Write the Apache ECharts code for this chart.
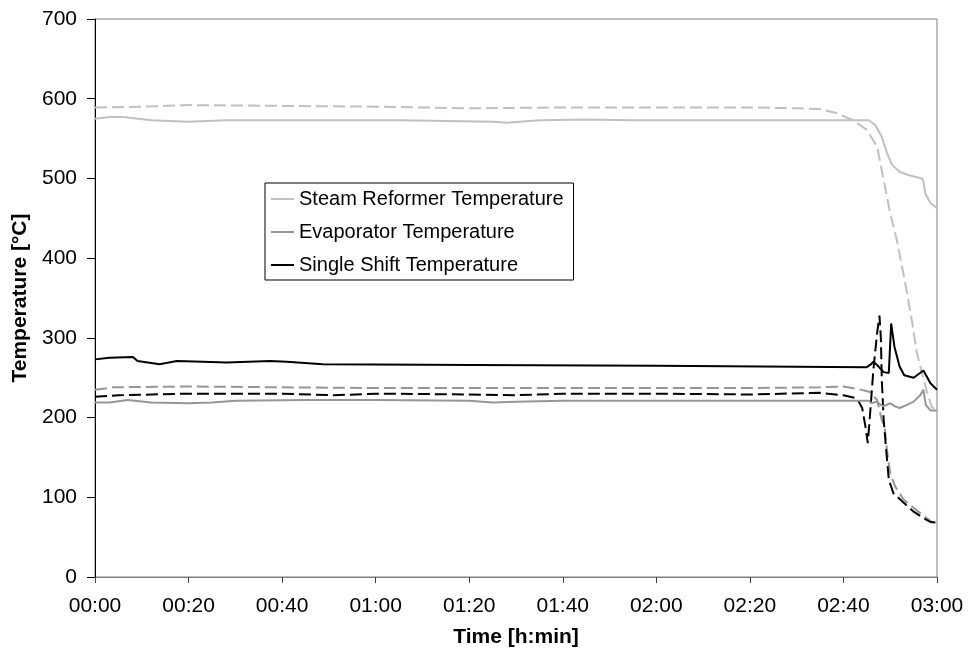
<!DOCTYPE html>
<html>
<head>
<meta charset="utf-8">
<script src="https://cdn.jsdelivr.net/npm/echarts@6/dist/echarts.min.js"></script>
<style>html,body{margin:0;padding:0;background:#fff;}#c{width:969px;height:656px;}</style>
</head>
<body>
<div id="c"></div>
<script>
// Time in minutes, temperatures in °C
const xTicks = ['00:00','00:20','00:40','01:00','01:20','01:40','02:00','02:20','02:40','03:00'];
const legendNames = ['Steam Reformer Temperature','Evaporator Temperature','Single Shift Temperature'];

const srT = [0,3,6,12,16,20,28,35,45,55,65,75,85,88,95,105,115,125,135,145,155,162,165.4,166.8,168.2,169.3,170.4,172.1,174,176.8,177.1,177.5,178.6,180];
const srV = [575,577,577,573,572,571,573,573,573,573,573,572,571,570,573,574,573,573,573,573,573,573,573,567,552,532,517,508,504,500,496,481,469,463];

const srdT = [0,10,20,40,60,80,100,120,140,150,155,158.5,162,165,167.2,168.6,170,171.4,172.8,173.6,174.7,175.7,176.8,177.9,178.9,180];
const srdV = [589,590,592,591,590,588,589,589,589,588,587,582,573,561,540,498,456,423,381,356,319,281,256,231,213,209];

const evT = [0,3,7,12,20,25,30,45,60,80,85,90,100,120,140,160,165.4,166,167,168.5,170,171,172,173.6,175,176.4,177.1,177.6,178.6,180];
const evV = [219,219,222,219,218,219,221,222,222,221,219,220,221,221,221,221,221,218,220,214,218,214,212,216,220,228,235,216,209,209];

const evdT = [0,4,20,40,60,80,100,120,140,155,160,163,165.7,167.2,168.2,168.9,169.3,169.5,170,171.1,172.9,176,178.9,180];
const evdV = [235,238,239,238,237,237,237,237,237,238,239,236,232,222,197,184,159,151,130,113,97,82,69,68];

const ssT = [0,3.1,8.1,9.1,13.8,17.5,23,28.2,37.4,41,48.7,80.8,120,164.9,165.7,166.4,167.2,168.6,169.7,170.2,170.9,172,173,175,177.1,178.6,180];
const ssV = [273,275,276,271,267,271,270,269,271,270,267,266,265,263,266,270,266,257,256,318,289,264,253,250,259,243,235];

const ssdT = [0,5,20,40,51,60,80,90,100,120,140,155,160,162.9,164,164.7,165.2,165.7,166.4,167.2,167.7,168,168.2,168.6,169.2,169.7,170.7,172.9,175,177.1,178.6,180];
const ssdV = [226,228,230,230,228,230,229,228,230,230,229,231,228,224,212,189,168,205,260,306,328,300,247,197,155,122,105,93,82,74,69,68];

function zip(t, v) { return t.map((x, i) => [x, v[i]]); }

const FONT = 'Liberation Sans, Arial, sans-serif';
const C_SR = '#c0c0c0', C_EV = '#969696', C_SS = '#000000';

function ser(name, data, color, dashed, z) {
  return {
    name: name, type: 'line', data: data, symbol: 'none', z: z,
    lineStyle: { color: color, width: 2, type: dashed ? [12, 5] : 'solid' },
    itemStyle: { color: color },
    animation: false
  };
}

const chart = echarts.init(document.getElementById('c'));
chart.setOption({
  backgroundColor: '#fff',
  animation: false,
  grid: { left: 95, right: 32, top: 19, bottom: 79, show: true, borderColor: '#808080', borderWidth: 1 },
  legend: {
    data: legendNames,
    orient: 'vertical',
    left: 265, top: 183,
    icon: 'rect', itemWidth: 23, itemHeight: 2, itemGap: 13,
    borderColor: '#000', borderWidth: 1, padding: [6, 10, 5, 6],
    textStyle: { fontFamily: FONT, fontSize: 20, color: '#000', lineHeight: 19 }
  },
  xAxis: {
    type: 'value', min: 0, max: 180, interval: 20,
    name: 'Time [h:min]', nameLocation: 'middle', nameGap: 50,
    nameTextStyle: { fontFamily: FONT, fontSize: 21, fontWeight: 'bold', color: '#000' },
    axisLine: { show: true, lineStyle: { color: '#808080', width: 1 } },
    axisTick: { show: true, length: 6, lineStyle: { color: '#404040' } },
    axisLabel: { formatter: (v) => xTicks[Math.round(v / 20)], fontFamily: FONT, fontSize: 21, color: '#000', margin: 19 },
    splitLine: { show: false }
  },
  yAxis: {
    type: 'value', min: 0, max: 700, interval: 100,
    name: 'Temperature [°C]', nameLocation: 'middle', nameGap: 61,
    nameTextStyle: { fontFamily: FONT, fontSize: 21, fontWeight: 'bold', color: '#000' },
    axisLine: { show: true, lineStyle: { color: '#000', width: 1 } },
    axisTick: { show: true, length: 8, lineStyle: { color: '#000' } },
    axisLabel: { fontFamily: FONT, fontSize: 21, color: '#000', margin: 18 },
    splitLine: { show: false }
  },
  series: [
    ser('Steam Reformer dashed', zip(srdT, srdV), C_SR, true, 2),
    ser('Evaporator dashed', zip(evdT, evdV), C_EV, true, 2),
    ser('Single Shift dashed', zip(ssdT, ssdV), C_SS, true, 3),
    ser(legendNames[0], zip(srT, srV), C_SR, false, 4),
    ser(legendNames[1], zip(evT, evV), C_EV, false, 4),
    ser(legendNames[2], zip(ssT, ssV), C_SS, false, 5)
  ]
});
</script>
</body>
</html>
